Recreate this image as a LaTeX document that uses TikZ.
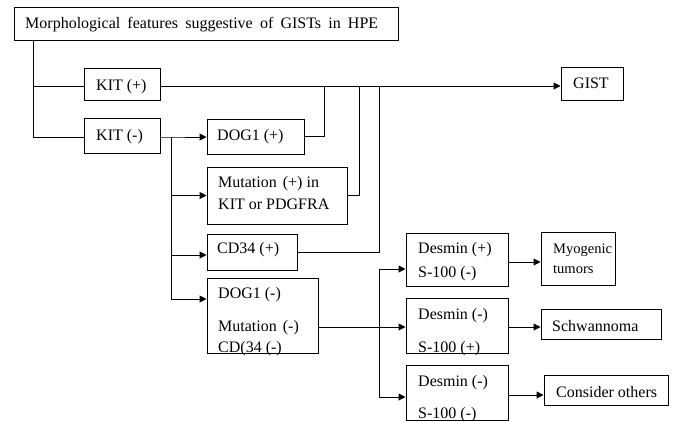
\documentclass[tikz,border=0pt]{standalone}
\usepackage{fontspec}
\setmainfont{Liberation Serif}
\usetikzlibrary{arrows.meta}
\begin{document}
\begin{tikzpicture}[x=1pt,y=-1pt,
  box/.style={draw, line width=1pt, inner sep=0pt},
  txt/.style={anchor=base west, inner sep=0pt, font=\fontsize{16pt}{20pt}\selectfont},
  smalltxt/.style={txt, font=\fontsize{14.5pt}{18pt}\selectfont},
  ln/.style={line width=1pt},
  arr/.style={line width=1pt, -{Triangle[length=7pt,width=7pt]}}]
\fill[white] (0,0) rectangle (683,421);
\useasboundingbox (0,0) rectangle (683,421);
% boxes
\node[box, minimum width=384pt, minimum height=33pt] (top) at (206,23.5) {};
\node[box, minimum width=76pt, minimum height=32pt] (kitp) at (122,84) {};
\node[box, minimum width=76pt, minimum height=35pt] (kitn) at (122,135.5) {};
\node[box, minimum width=62pt, minimum height=33pt] (gist) at (592,83.5) {};
\node[box, minimum width=97pt, minimum height=35pt] (dogp) at (255.5,136.5) {};
\node[box, minimum width=140pt, minimum height=57pt] (mut) at (277,195.5) {};
\node[box, minimum width=90pt, minimum height=36pt] (cdp) at (252,252) {};
\node[box, minimum width=111pt, minimum height=75pt] (dogn) at (262.5,315.5) {};
\node[box, minimum width=102pt, minimum height=53pt] (des1) at (457,259.5) {};
\node[box, minimum width=102pt, minimum height=55pt] (des2) at (457,325.5) {};
\node[box, minimum width=102pt, minimum height=55pt] (des3) at (457,392.5) {};
\node[box, minimum width=74pt, minimum height=53pt] (myo) at (578,259) {};
\node[box, minimum width=120pt, minimum height=30pt] (sch) at (601,324) {};
\node[box, minimum width=124pt, minimum height=30pt] (oth) at (606,390) {};
% texts
\node[txt] (ttop) at (25,28) {\makebox[353pt][s]{Morphological features suggestive of GISTs in HPE}};
\node[txt] (tkitp) at (96,90) {KIT (+)};
\node[txt] (tkitn) at (96,140) {KIT (-)};
\node[txt] (tgist) at (573,88) {GIST};
\node[txt] (tdogp) at (217,140) {DOG1 (+)};
\node[txt] (tmut1) at (218,187) {Mutation\hspace{2pt} (+) in};
\node[txt] (tmut2) at (218,209) {KIT or PDGFRA};
\node[txt] (tcdp) at (217,253) {CD34 (+)};
\node[txt] (tdogn1) at (218,298) {DOG1 (-)};
\node[txt] (tdogn2) at (218,331) {Mutation\hspace{2pt} (-)};
\node[txt] (tdogn3) at (218,352) {CD(34 (-)};
\node[txt] (tdes1a) at (418,253) {Desmin (+)};
\node[txt] (tdes1b) at (418,277) {S-100 (-)};
\node[txt] (tdes2a) at (418,319) {Desmin (-)};
\node[txt] (tdes2b) at (418,352) {S-100 (+)};
\node[txt] (tdes3a) at (418,386) {Desmin (-)};
\node[txt] (tdes3b) at (418,418) {S-100 (-)};
\node[smalltxt] (tmyo1) at (553,253) {Myogenic};
\node[smalltxt] (tmyo2) at (553,273) {tumors};
\node[txt] (tsch) at (552,331) {Schwannoma};
\node[txt] (toth) at (556,397) {Consider others};
% redraw box outlines over text that overlaps edges
\draw[ln] (dogn.south west) -- (dogn.south east);
\draw[ln] (des2.south west) -- (des2.south east);
\draw[ln] (des3.south west) -- (des3.south east);
% coordinates
\coordinate (t1) at (33,86);
\coordinate (t2) at (33,137);
\coordinate (j1) at (171,137);
\coordinate (j1c) at (171,255);
\coordinate (j1e) at (171,299);
\coordinate (r1) at (324,86);
\coordinate (r2) at (359,86);
\coordinate (r3) at (379,86);
\coordinate (k1) at (379,269);
\coordinate (k2) at (379,327);
\coordinate (k3) at (379,397);
\coordinate (m1) at (0,262);
\coordinate (m2) at (0,327);
\coordinate (m3) at (0,395);
% connectors
\draw[ln] (top.south -| t1) -- (t2) -- (t2 -| kitn.west);
\draw[ln] (t1) -- (t1 -| kitp.west);
\draw[arr] (kitp.east |- t1) -- (t1 -| gist.west);
\draw[arr] (kitn.east |- j1) -- (j1) -- (j1 -| dogp.west);
\draw[ln] (j1) -- (j1e);
\draw[arr] (j1 |- mut.west) -- (mut.west);
\draw[arr] (j1c) -- (j1c -| cdp.west);
\draw[arr] (j1e) -- (j1e -| dogn.west);
\draw[ln] (dogp.east) -| (r1);
\draw[ln] (mut.east) -| (r2);
\draw[ln] (cdp.east) -| (r3);
\draw[arr] (dogn.east |- k2) -- (k2 -| des2.west);
\draw[ln] (k1) -- (k3);
\draw[arr] (k1) -- (k1 -| des1.west);
\draw[arr] (k3) -- (k3 -| des3.west);
\draw[arr] (des1.east |- m1) -- (myo.west |- m1);
\draw[arr] (des2.east |- m2) -- (sch.west |- m2);
\draw[arr] (des3.east |- m3) -- (oth.west |- m3);
\end{tikzpicture}
\end{document}
